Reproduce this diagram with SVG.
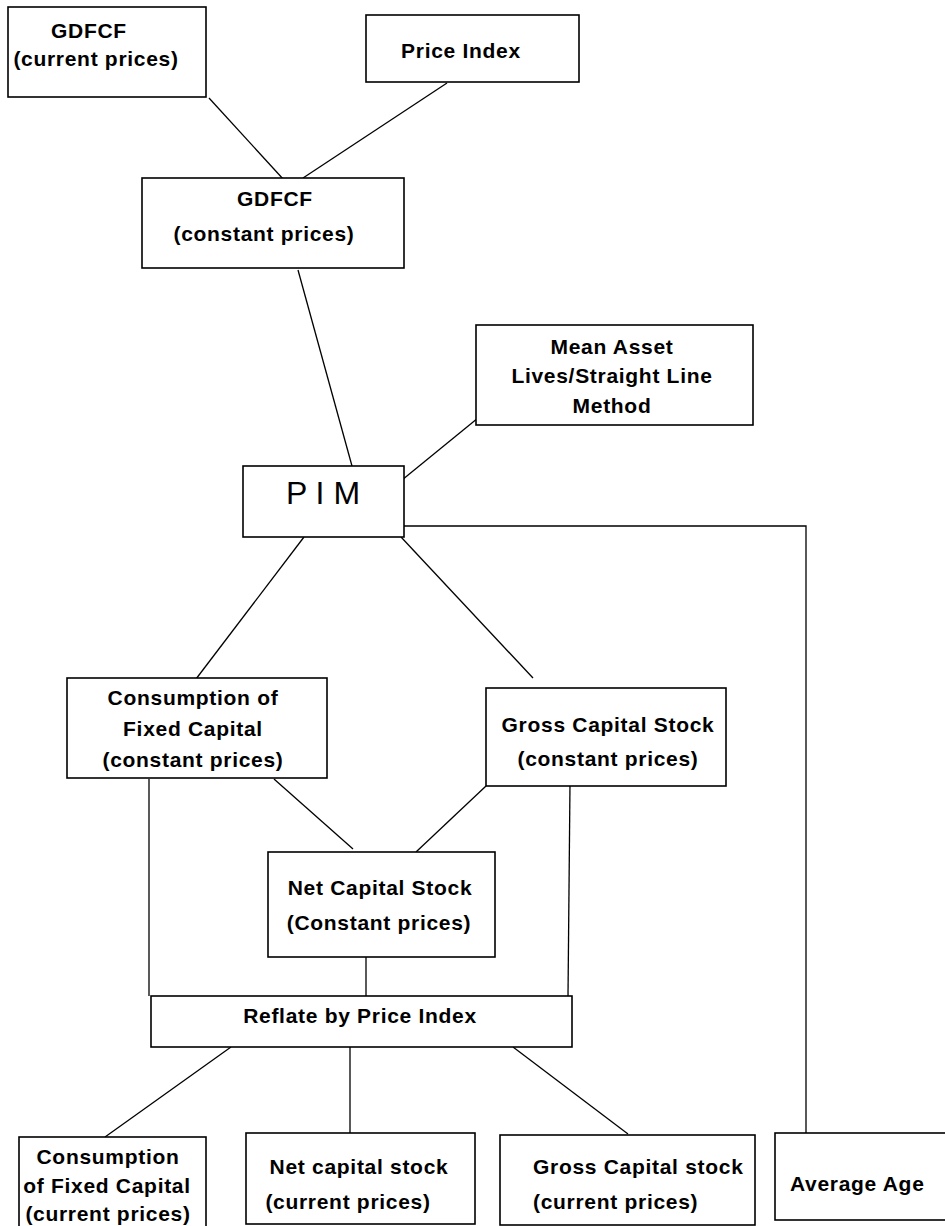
<svg xmlns="http://www.w3.org/2000/svg" width="945" height="1226" viewBox="0 0 945 1226">
<style>
.box{fill:#fff;stroke:#000;stroke-width:1.6}
.t{font-family:"Liberation Sans",Arial,sans-serif;font-weight:bold;font-size:21px;letter-spacing:0.7px;fill:#000;text-anchor:middle}
.s{text-anchor:start}
.pim{font-family:"Liberation Sans",Arial,sans-serif;font-size:32px;fill:#000;text-anchor:middle}
.c line,.c polyline{stroke:#000;stroke-width:1.3;fill:none}
</style>
<rect width="945" height="1226" fill="#fff"/>
<g class="c" id="connectors">
<line x1="209" y1="98" x2="284" y2="180"/>
<line x1="447" y1="83" x2="303" y2="178"/>
<line x1="298" y1="270" x2="352" y2="466"/>
<line x1="478" y1="418" x2="402" y2="480"/>
<polyline points="404,526 806,526 806,1133"/>
<line x1="304" y1="537" x2="196" y2="679"/>
<line x1="401" y1="537" x2="533" y2="678"/>
<line x1="274" y1="779" x2="353" y2="849"/>
<line x1="486" y1="786" x2="416" y2="852"/>
<line x1="149" y1="779" x2="149" y2="996"/>
<line x1="570" y1="783" x2="568" y2="996"/>
<line x1="366" y1="957" x2="366" y2="996"/>
<line x1="231" y1="1047" x2="105" y2="1137"/>
<line x1="350" y1="1047" x2="350" y2="1133"/>
<line x1="513" y1="1047" x2="628" y2="1134"/>
</g>
<g id="gdfcf-current"><rect class="box" x="8" y="7" width="198" height="90"/>
<text class="t" x="89" y="38">GDFCF</text><text class="t" x="96" y="66">(current prices)</text></g>
<g id="price-index"><rect class="box" x="366" y="15" width="213" height="67"/>
<text class="t" x="461" y="58">Price Index</text></g>
<g id="gdfcf-constant"><rect class="box" x="142" y="178" width="262" height="90"/>
<text class="t" x="275" y="206">GDFCF</text><text class="t" x="264" y="241">(constant prices)</text></g>
<g id="mean-asset"><rect class="box" x="476" y="325" width="277" height="100"/>
<text class="t" x="612" y="354">Mean Asset</text><text class="t" x="612" y="383">Lives/Straight Line</text><text class="t" x="612" y="413">Method</text></g>
<g id="pim"><rect class="box" x="243" y="466" width="161" height="71"/>
<text class="pim" x="323" y="504">P I M</text></g>
<g id="cfc-constant"><rect class="box" x="67" y="678" width="260" height="100"/>
<text class="t" x="193" y="705">Consumption of</text><text class="t" x="193" y="736">Fixed Capital</text><text class="t" x="193" y="767">(constant prices)</text></g>
<g id="gcs-constant"><rect class="box" x="486" y="688" width="240" height="98"/>
<text class="t" x="608" y="732">Gross Capital Stock</text><text class="t" x="608" y="766">(constant prices)</text></g>
<g id="ncs-constant"><rect class="box" x="268" y="852" width="227" height="105"/>
<text class="t" x="380" y="895">Net Capital Stock</text><text class="t" x="379" y="930">(Constant prices)</text></g>
<g id="reflate"><rect class="box" x="151" y="996" width="421" height="51"/>
<text class="t" x="360" y="1023">Reflate by Price Index</text></g>
<g id="cfc-current"><rect class="box" x="19" y="1137" width="187" height="100"/>
<text class="t" x="108" y="1164">Consumption</text><text class="t" x="107" y="1193">of Fixed Capital</text><text class="t" x="108" y="1221">(current prices)</text></g>
<g id="ncs-current"><rect class="box" x="246" y="1133" width="229" height="91"/>
<text class="t" x="359" y="1174">Net capital stock</text><text class="t" x="348" y="1209">(current prices)</text></g>
<g id="gcs-current"><rect class="box" x="500" y="1135" width="255" height="90"/>
<text class="t s" x="533" y="1174">Gross Capital stock</text><text class="t s" x="533" y="1209">(current prices)</text></g>
<g id="average-age"><rect class="box" x="775" y="1133" width="180" height="87"/>
<text class="t s" x="790" y="1191">Average Age</text></g>
</svg>
